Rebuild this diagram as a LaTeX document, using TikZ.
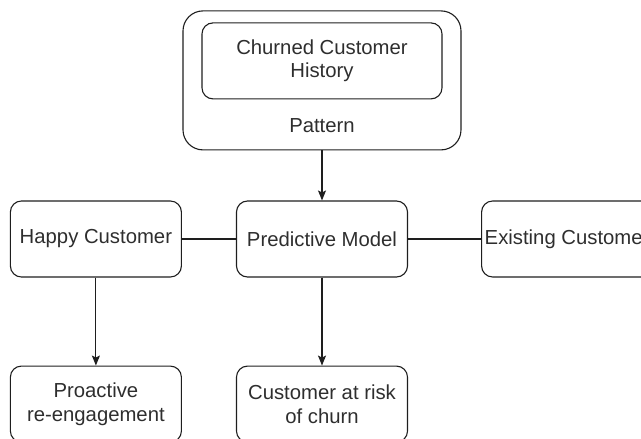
\documentclass[tikz,border=0pt]{standalone}
\usepackage{fontspec}
\setmainfont{Liberation Sans}
\usepackage{tikz}
\usetikzlibrary{arrows.meta,positioning}
\definecolor{churnInk}{HTML}{1E1E1E}
\definecolor{churnText}{HTML}{2E2E2E}

\begin{document}
\begin{tikzpicture}[
  node distance=88pt and 54pt,
  box/.style={rectangle,rounded corners=11pt,draw=churnInk,line width=1.1pt,align=center,minimum width=171pt,minimum height=76pt,inner sep=2pt,text=churnText,font=\fontsize{20.3}{23.5}\selectfont},
  outerbox/.style={box,rounded corners=20pt,minimum width=278pt,minimum height=139pt},
  plaintext/.style={inner sep=0pt,text=churnText,font=\fontsize{20.3}{23.5}\selectfont},
  link/.style={line width=1.1pt,draw=churnInk},
  arrow/.style={-{Stealth[length=10pt,width=8pt,inset=2pt]},line width=1.1pt,draw=churnInk,fill=churnInk}
]
\clip (0,0) rectangle (641pt,-439pt);
\node[box] (pm) at (322pt,-239pt) {Predictive Model};
\node[box,left=of pm] (hc) {Happy Customer};
\node[box,right=73pt of pm] (ec) {Existing Customer};
\node[box,below=of pm] (cr) {Customer at risk\\of churn};
\node[box,below=of hc] (pr) {Proactive\\re-engagement};
\node[outerbox,above=50pt of pm] (pat) {};
\node[box,minimum width=240pt,below=12pt of pat.north] (hist) {Churned Customer\\History};
\node[plaintext] (pt) at ([yshift=25pt]pat.south) {Pattern};
\draw[arrow] (pat) -- (pm);
\draw[link] (hc) -- (pm);
\draw[link] (pm) -- (ec);
\draw[arrow] (pm) -- (cr);
\draw[arrow] (hc) -- (pr);
\end{tikzpicture}
\end{document}
